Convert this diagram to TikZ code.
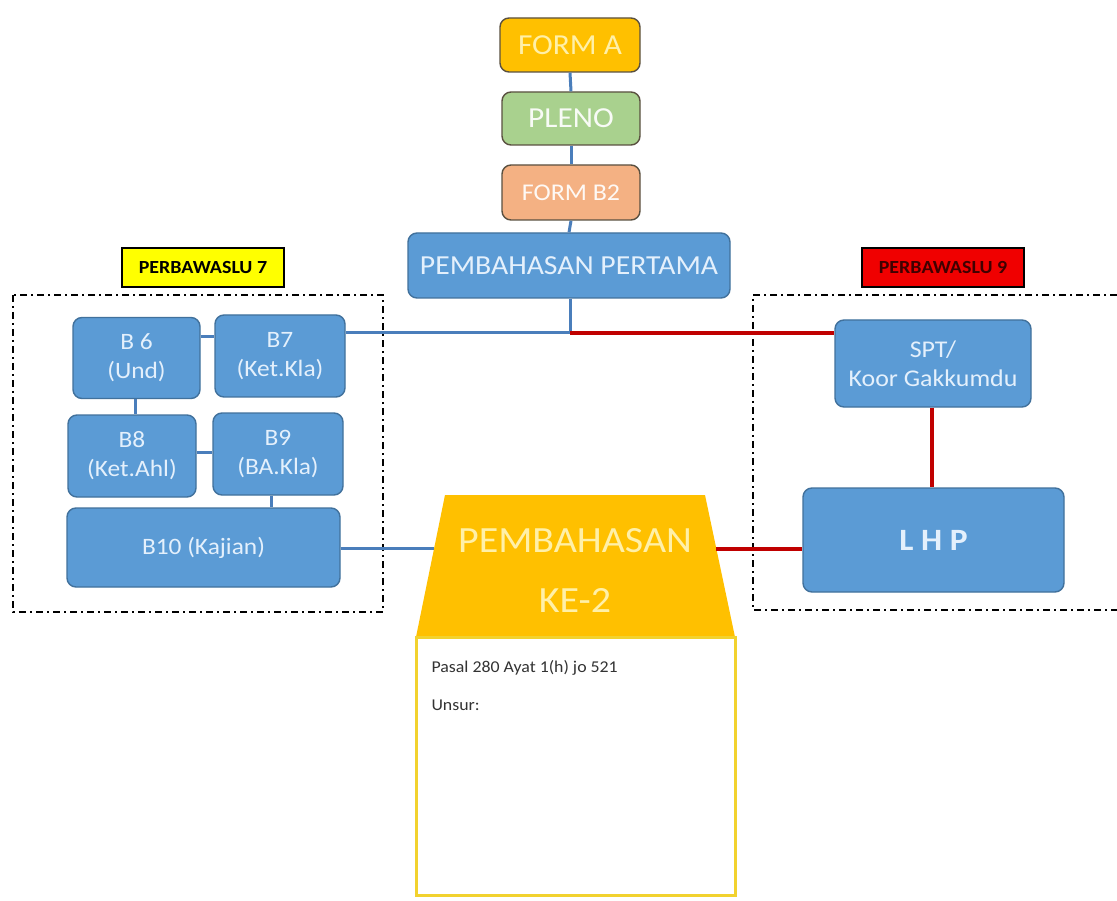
\documentclass[tikz,border=0pt]{standalone}
\usepackage{fontspec}
\setmainfont{Carlito}[FakeStretch=1.08]
\begin{document}
\begin{tikzpicture}[x=1pt,y=-1pt,
  box/.style={rounded corners=9pt, line width=1.4pt, align=center, inner sep=0pt},
  bluebox/.style={box, fill=boxblue, draw=boxblueedge, text=boxtext},
  formbox/.style={box, draw=formedge},
  tag/.style={draw=black, line width=1.6pt, inner sep=0pt, font=\bfseries\fontsize{18.5}{18.5}\selectfont},
  frame/.style={line width=2pt, dash pattern=on 7pt off 4pt on 2pt off 4pt},
  bluelink/.style={draw=linkblue, line width=3pt},
  redlink/.style={draw=linkred, line width=4pt},
]
\definecolor{boxblue}{HTML}{5B9BD5}
\definecolor{boxblueedge}{HTML}{41719C}
\definecolor{boxtext}{HTML}{E4F0FC}
\definecolor{formedge}{HTML}{5A5040}
\definecolor{gold}{HTML}{FFC000}
\definecolor{goldtext}{HTML}{FFF0A8}
\definecolor{green}{HTML}{A9D18E}
\definecolor{salmon}{HTML}{F4B183}
\definecolor{linkblue}{HTML}{4A7EBB}
\definecolor{linkred}{HTML}{C00000}
\definecolor{tagyellow}{HTML}{FFFF00}
\definecolor{tagred}{HTML}{F00000}
\definecolor{paneledge}{HTML}{F2D22E}

% canvas
\fill[white] (0,0) rectangle (1117,901);
\useasboundingbox (0,0) rectangle (1117,901);

% top chain
\node[formbox, fill=gold, text=goldtext, minimum width=140pt, minimum height=54pt,
      font=\fontsize{29}{29}\selectfont] (forma) at (570,45) {FORM A};
\node[formbox, fill=green, text=white!92!green, minimum width=138pt, minimum height=53pt,
      font=\fontsize{29}{29}\selectfont] (pleno) at (571,118.5) {PLENO};
\node[formbox, fill=salmon, text=white!92!salmon, minimum width=138pt, minimum height=55pt,
      font=\fontsize{24}{24}\selectfont] (formb) at (571,192.5) {FORM B2};
\node[bluebox, minimum width=322pt, minimum height=65pt,
      font=\fontsize{27.5}{27.5}\selectfont] (pp) at (569,265.5) {PEMBAHASAN PERTAMA};

% group frames and tags
\draw[frame] (13,295) rectangle (383,612);
\draw[frame] (1117,295) -- (753,295) -- (753,610) -- (1117,610);
\node[tag, fill=tagyellow, minimum width=162pt, minimum height=39pt] (tag7) at (203,267.5) {PERBAWASLU 7};
\node[tag, fill=tagred, text=black!75!red, minimum width=162pt, minimum height=39pt] (tag9) at (943,267.5) {PERBAWASLU 9};

% left group
\begin{scope}[every node/.append style={font=\fontsize{23.5}{29}\selectfont}]
\node[bluebox, minimum width=127pt, minimum height=81pt] (b6) at (136.5,358) {B 6\\(Und)};
\node[bluebox, minimum width=130pt, minimum height=82pt] (b7) at (280,356) {B7\\(Ket.Kla)};
\node[bluebox, minimum width=128pt, minimum height=82pt] (b8) at (132,456) {B8\\(Ket.Ahl)};
\node[bluebox, minimum width=130pt, minimum height=82pt] (b9) at (278,454) {B9\\(BA.Kla)};
\node[bluebox, minimum width=273pt, minimum height=79pt] (b10) at (203.5,547.5) {B10 (Kajian)};
\end{scope}

% right group
\node[bluebox, minimum width=196pt, minimum height=87pt,
      font=\fontsize{24}{29}\selectfont] (spt) at (933,363.5) {SPT/\\Koor Gakkumdu};
\node[bluebox, minimum width=261pt, minimum height=104pt,
      font=\bfseries\fontsize{31}{31}\selectfont] (lhp) at (933.5,540) {L H P};

% second discussion: tab and panel
\fill[gold] (445,495) -- (705,495) -- (735,637) -- (416,637) -- cycle;
\node[text=goldtext, align=center, font=\fontsize{37}{60}\selectfont] (ke2) at (575,570) {PEMBAHASAN\\KE-2};
\node[draw=paneledge, line width=3pt, fill=white, minimum width=319pt, minimum height=258pt,
      inner sep=0pt] (panel) at (575.5,766) {};
\node[anchor=west, text=black!80, font=\fontsize{16.5}{16.5}\selectfont] (pasal) at (428,668) {Pasal 280 Ayat 1(h) jo 521};
\node[anchor=west, text=black!80, font=\fontsize{16.5}{16.5}\selectfont] (unsur) at (428,705) {Unsur:};
\coordinate (ke2l) at (434,548);
\coordinate (ke2r) at (716,549);

% connectors
\coordinate (hub) at (570,333);
\draw[bluelink] (forma.south) -- (pleno.north);
\draw[bluelink] (pleno.south) -- (formb.north);
\draw[bluelink] (formb.south) -- (pp.north);
\draw[bluelink] (pp.south -| hub) -- (hub);
\draw[bluelink] (hub) -- (hub -| b7.east);
\draw[redlink] (hub) -- (hub -| spt.west);
\draw[bluelink] (b6.east |- 0,337) -- (b7.west |- 0,337);
\draw[bluelink] (b6.south -| 135,0) -- (b8.north -| 135,0);
\draw[bluelink] (b8.east |- 0,452) -- (b9.west |- 0,452);
\draw[bluelink] (b9.south -| 271,0) -- (b10.north -| 271,0);
\draw[bluelink] (b10.east |- ke2l) -- (ke2l);
\draw[redlink] (spt.south -| 932,0) -- (lhp.north -| 932,0);
\draw[redlink] (ke2r) -- (lhp.west |- ke2r);
\end{tikzpicture}
\end{document}
